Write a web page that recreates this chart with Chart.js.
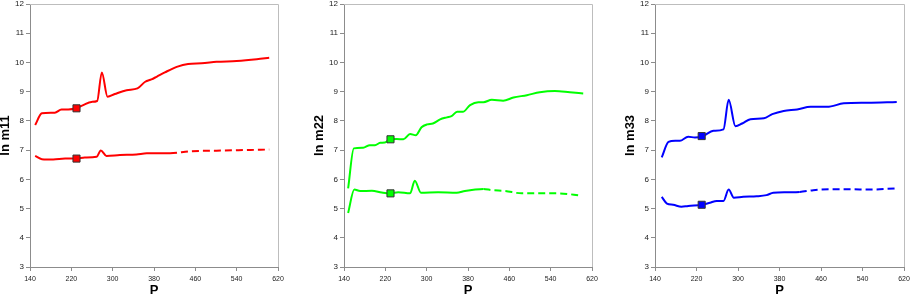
<!DOCTYPE html>
<html><head><meta charset="utf-8">
<script src="https://cdn.jsdelivr.net/npm/chart.js@4/dist/chart.umd.min.js"></script>
<style>
html,body{margin:0;padding:0;width:911px;height:298px;overflow:hidden;background:#fff;}
canvas{position:absolute;top:-10px;}
</style></head><body>
<canvas id="c1" width="300" height="308" style="left:-5px"></canvas>
<canvas id="c2" width="300" height="308" style="left:309px"></canvas>
<canvas id="c3" width="300" height="308" style="left:620px"></canvas>
<script>
// ---- data ----
const xTicks = [140, 220, 300, 380, 460, 540, 620];
const yTicks = [3, 4, 5, 6, 7, 8, 9, 10, 11, 12];
const dashFromP = 410;
const markerP = 230;

// ln m11 (red)
const p11Upper = [150,163,188,201,214,229,243,259,270,279,290,304,327,348,363,375,385,401,424,446,472,501,540,579,603];
const m11Upper = [7.86,8.26,8.28,8.39,8.39,8.43,8.54,8.65,8.68,9.66,8.83,8.92,9.05,9.11,9.34,9.42,9.51,9.66,9.85,9.95,9.97,10.02,10.05,10.11,10.16];
const p11Lower = [150,163,185,208,229,246,269,277,288,314,346,366,411,450,501,553,603];
const m11Lower = [6.80,6.69,6.68,6.71,6.71,6.75,6.77,6.99,6.80,6.83,6.85,6.89,6.89,6.96,6.98,7.0,7.02];
const m11Marks = [8.43, 6.71];

// ln m22 (green)
const p22Upper = [148,159,177,190,200,210,219,229,242,255,268,279,290,301,312,326,339,348,359,370,384,400,410,426,448,468,494,519,548,577,603];
const m22Upper = [5.69,7.06,7.08,7.17,7.17,7.25,7.26,7.37,7.38,7.37,7.55,7.51,7.78,7.88,7.91,8.05,8.12,8.16,8.31,8.31,8.54,8.64,8.64,8.72,8.69,8.80,8.88,8.98,9.02,8.98,8.94];
const p22Lower = [148,160,171,194,213,229,245,268,277,289,322,358,374,394,410,426,452,484,516,555,600];
const m22Lower = [4.85,5.65,5.60,5.61,5.55,5.52,5.56,5.52,5.95,5.54,5.56,5.54,5.60,5.65,5.67,5.63,5.60,5.52,5.52,5.52,5.44];
const m22Marks = [7.37, 5.52];

// ln m33 (blue)
const p33Upper = [153,166,179,188,204,217,232,253,272,282,295,308,324,350,366,388,414,440,472,504,550,606];
const m33Upper = [6.75,7.28,7.32,7.32,7.46,7.43,7.48,7.66,7.71,8.72,7.82,7.91,8.06,8.09,8.23,8.34,8.39,8.48,8.48,8.60,8.62,8.65];
const p33Lower = [153,163,175,191,204,232,246,259,272,282,292,310,336,355,368,394,419,445,477,515,554,604];
const m33Lower = [5.40,5.17,5.13,5.06,5.09,5.13,5.20,5.26,5.26,5.65,5.37,5.40,5.42,5.46,5.54,5.56,5.57,5.63,5.66,5.66,5.65,5.69];
const m33Marks = [7.48, 5.13];

// ---- drawing ----
const AXIS = '#8c8c8c', FRAME = '#bdbdbd';
const frame = {
  id: 'frame',
  beforeDatasetsDraw(chart) {
    const {ctx, chartArea: a} = chart;
    ctx.save();
    ctx.strokeStyle = FRAME; ctx.lineWidth = 1;
    ctx.beginPath();
    ctx.moveTo(a.left, Math.round(a.top) + 0.5);
    ctx.lineTo(Math.round(a.right) + 0.5, Math.round(a.top) + 0.5);
    ctx.lineTo(Math.round(a.right) + 0.5, a.bottom);
    ctx.stroke();
    ctx.restore();
  }
};
const pts = (ps, vs) => ps.map((p, i) => ({x: p, y: vs[i]}));

function panel(id, title, color, pu, vu, pl, vl, marks, padRight) {
  new Chart(document.getElementById(id), {
    type: 'line',
    data: {
      datasets: [
        { data: [{x: markerP, y: marks[0]}, {x: markerP, y: marks[1]}], showLine: false,
          pointStyle: 'rect', pointRadius: 5, pointBackgroundColor: color,
          pointBorderColor: '#333', pointBorderWidth: 1 },
        { data: pts(pu, vu), borderColor: color, borderWidth: 2, pointRadius: 0,
          cubicInterpolationMode: 'monotone' },
        { data: pts(pl, vl), borderColor: color, borderWidth: 2, pointRadius: 0,
          cubicInterpolationMode: 'monotone',
          segment: { borderDash: c => c.p0.parsed.x >= dashFromP ? [7, 4] : [] } }
      ]
    },
    options: {
      responsive: false, animation: false, events: [],
      layout: { padding: { top: 14, right: padRight, left: 0, bottom: 0 } },
      plugins: { legend: { display: false }, tooltip: { enabled: false } },
      scales: {
        x: {
          type: 'linear', min: 140, max: 620,
          afterFit: s => { s.height = 31; },
          afterBuildTicks: s => { s.ticks = xTicks.map(v => ({value: v})); },
          border: { color: AXIS, width: 1 },
          grid: { drawOnChartArea: false, drawTicks: true, tickLength: 4, color: AXIS },
          ticks: { font: { family: 'Liberation Sans, Arial', size: 7 }, color: '#222', padding: 4, maxRotation: 0 },
          title: { display: true, text: 'P', color: '#000', padding: { top: 0, bottom: 1 },
                   font: { family: 'Liberation Sans, Arial', size: 13, weight: 'bold', lineHeight: 1 } }
        },
        y: {
          min: 3, max: 12,
          afterFit: s => { s.width = 35; },
          afterBuildTicks: s => { s.ticks = yTicks.map(v => ({value: v})); },
          border: { color: AXIS, width: 1 },
          grid: { drawOnChartArea: false, drawTicks: true, tickLength: 4, color: AXIS },
          ticks: { font: { family: 'Liberation Sans, Arial', size: 8 }, color: '#222', padding: 2 },
          title: { display: true, text: title, color: '#000', padding: { top: 4, bottom: 0 },
                   font: { family: 'Liberation Sans, Arial', size: 13, weight: 'bold', lineHeight: 1 } }
        }
      }
    },
    plugins: [frame]
  });
}

panel('c1', 'ln m11', '#ff0000', p11Upper, m11Upper, p11Lower, m11Lower, m11Marks, 17);
panel('c2', 'ln m22', '#00ff00', p22Upper, m22Upper, p22Lower, m22Lower, m22Marks, 17);
panel('c3', 'ln m33', '#0000ff', p33Upper, m33Upper, p33Lower, m33Lower, m33Marks, 16);
</script>
</body></html>
